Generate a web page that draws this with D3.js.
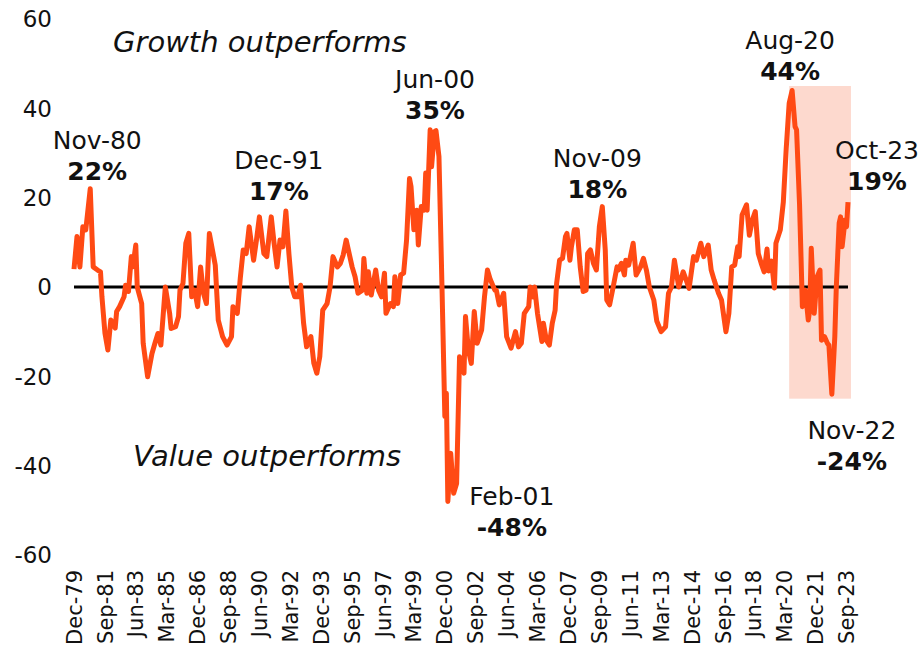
<html lang="en">
<head>
    <title>Growth vs Value</title>
    <style>
        body { margin: 0; background: #fff; }
        svg text { fill: #111; font-family: "DejaVu Sans", sans-serif; }
        .tick-y { font-size: 23px; }
        .tick-x { font-size: 21px; }
        .ann-date { font-size: 25px; }
        .ann-pct { font-size: 25px; font-weight: bold; }
        .regime { font-size: 29px; font-style: italic; }
    </style>
</head>
<body>
<svg id="chart"></svg>
<script src="https://d3js.org/d3.v7.min.js"></script>
<script>
    var months = [
        "1979-12","1980-02","1980-04","1980-06","1980-08","1980-11","1981-01","1981-04","1981-06","1981-07",
        "1981-09","1981-11","1982-01","1982-04","1982-05","1982-07","1982-10","1982-11","1983-01","1983-03",
        "1983-04","1983-06","1983-07","1983-10","1983-11","1984-02","1984-05","1984-07","1984-09","1984-11",
        "1985-02","1985-05","1985-06","1985-09","1985-11","1985-12","1986-02","1986-04","1986-06","1986-08",
        "1986-10","1986-12","1987-02","1987-04","1987-06","1987-08","1987-12","1988-02","1988-05","1988-08",
        "1988-11","1988-12","1989-03","1989-05","1989-07","1989-09","1989-11","1990-02","1990-04","1990-06",
        "1990-09","1990-11","1991-02","1991-04","1991-06","1991-08","1991-10","1991-12","1992-02","1992-04",
        "1992-06","1992-08","1992-10","1992-12","1993-02","1993-05","1993-07","1993-09","1993-11","1994-01",
        "1994-04","1994-06","1994-08","1994-11","1995-01","1995-03","1995-05","1995-09","1995-11","1996-01",
        "1996-04","1996-05","1996-07","1996-08","1996-10","1997-01","1997-03","1997-05","1997-07","1997-08",
        "1997-11","1998-01","1998-02","1998-04","1998-06","1998-08","1998-10","1998-12","1999-01","1999-03",
        "1999-05","1999-06","1999-08","1999-10","1999-11","1999-12","2000-02","2000-03","2000-05","2000-06",
        "2000-08","2000-10","2000-12","2001-01","2001-02","2001-04","2001-06","2001-08","2001-10","2002-01",
        "2002-02","2002-04","2002-06","2002-08","2002-10","2003-01","2003-03","2003-05","2003-07","2003-10",
        "2003-11","2004-01","2004-04","2004-06","2004-09","2004-12","2005-02","2005-04","2005-06","2005-09",
        "2005-10","2005-12","2006-01","2006-03","2006-06","2006-07","2006-09","2006-11","2007-01","2007-03",
        "2007-04","2007-06","2007-08","2007-10","2007-11","2008-01","2008-02","2008-04","2008-06","2008-08",
        "2008-10","2008-12","2009-01","2009-03","2009-05","2009-07","2009-09","2009-11","2010-01","2010-02",
        "2010-04","2010-06","2010-09","2010-10","2010-12","2011-02","2011-03","2011-05","2011-08","2011-10",
        "2012-01","2012-03","2012-05","2012-07","2012-10","2012-12","2013-03","2013-06","2013-08","2013-10",
        "2013-12","2014-03","2014-06","2014-08","2014-10","2015-01","2015-03","2015-06","2015-08","2015-11",
        "2016-01","2016-03","2016-06","2016-08","2016-11","2017-01","2017-03","2017-05","2017-07","2017-08",
        "2017-10","2018-01","2018-03","2018-05","2018-07","2018-09","2018-11","2019-01","2019-03","2019-04",
        "2019-06","2019-08","2019-09","2019-12","2020-02","2020-04","2020-06","2020-08","2020-10","2020-11",
        "2021-01","2021-02","2021-03","2021-05","2021-07","2021-08","2021-09","2021-11","2022-01","2022-03",
        "2022-04","2022-06","2022-08","2022-09","2022-11","2023-01","2023-02","2023-04","2023-05","2023-06",
        "2023-08","2023-09","2023-10"
    ];
    var spread = [
        4, 11.3, 4.5, 13.5, 12.8, 22, 4.5, 3.8, 3.4, -2.2,
        -10.3, -14.1, -7.4, -9.2, -5.5, -4.4, -2.2, 0.4, -1, 6.8,
        4.5, 9.4, 0, -3.7, -12.6, -20.1, -14.9, -12.6, -10.4, -13,
        0, -5.9, -9.3, -8.9, -6.6, -0.7, 0.8, 9.8, 12, -2.2,
        -0.7, -4.4, 4.5, -1.4, -3.7, 12, 4.9, -7.4, -11.1, -13,
        -11.1, -4.4, -5.9, 1.9, 8.3, 7.5, 13.5, 6, 10.5, 15.7,
        7.5, 6.8, 15.7, 9.8, 4.5, 10.5, 9, 17, 7.5, 0,
        -2.2, -2.2, 0.4, -8.1, -13.4, -11.1, -17.1, -19.3, -15.6, -5.2,
        -3.7, 0, 6.8, 4.5, 5.3, 7.2, 10.5, 4.5, 2.3, -1.4,
        -0.7, 6.4, -1.4, 3.4, -1.8, 3.8, -0.7, -2.2, 3.1, -5.9,
        -3.7, -4.4, 2.3, -3.7, 2.7, 3.1, 10.5, 24.3, 22.5, 12.8,
        17.2, 9.4, 18, 17.2, 25.5, 17.2, 35.2, 26.9, 34.8, 35,
        29.2, 0.8, -29, -23.8, -48, -37.2, -46.2, -44, -15.6, -19.3,
        -6.6, -14.1, -17.1, -5.5, -12.6, -9.6, -2.2, 3.8, 1.6, -0.7,
        -0.7, -4, -1.4, -11.1, -13.7, -10, -13.4, -12.6, -5.9, -4.4,
        0, -2.2, 0, -5.9, -12.2, -8.1, -11.9, -13, -8.1, -5.2,
        0.8, 6, 6.4, 11.3, 12, 6, 9, 12.8, 12.8, 4.5,
        -1, -0.7, 7.5, 8.3, 5.3, 3.8, 13.5, 18, 8.3, -2.9,
        -4, -0.7, 4.5, 3.8, 5.3, 2.7, 6, 4.9, 9.8, 2.7,
        4.5, 6.4, 3.8, 0, -2.9, -7.6, -10, -8.9, -1.4, 0,
        6, 0, 3.4, 1.6, -0.3, 6.8, 6, 9.8, 6.8, 9.4,
        3.8, 1.6, -1.4, -2.9, -10, -5.9, 4.5, 4.9, 9, 6.8,
        16.1, 18.4, 11.6, 15, 16.9, 7.5, 5.3, 3.4, 8.5, 3.6,
        5.8, -0.2, 9.8, 12.8, 19, 31, 41.1, 44, 35.9, 35.2,
        18.7, 6.8, -4.4, -0.7, -7.4, -5.2, 8.7, -5.9, 2.3, 3.8,
        -11.9, -11.1, -12.6, -13, -24, -11.1, 0, 14.3, 15.7, 9,
        15, 13.5, 19
    ];
    var xTickLabels = ["Dec-79","Sep-81","Jun-83","Mar-85","Dec-86","Sep-88","Jun-90","Mar-92","Dec-93",
        "Sep-95","Jun-97","Mar-99","Dec-00","Sep-02","Jun-04","Mar-06","Dec-07","Sep-09","Jun-11",
        "Mar-13","Dec-14","Sep-16","Jun-18","Mar-20","Dec-21","Sep-23"];
    var yTicks = [-60, -40, -20, 0, 20, 40, 60];

    // labelled extremes
    var peakMonths = ["1980-11","1991-12","2000-06","2009-11","2020-08","2023-10","2022-11","2001-02"];
    var peakValues = [22, 17, 35, 18, 44, 19, -24, -48];

    // shaded recent period
    var shadeMonths = ["2020-06", "2023-12"];
    var shadeRange = [-25, 45];

    var width = 924, height = 656;
    var parseMonth = d3.timeParse("%Y-%m");
    var parseTick = d3.timeParse("%b-%y");

    var data = months.map((m, i) => ({date: parseMonth(m), value: spread[i]}));

    var x = d3.scaleTime()
        .domain(d3.extent(data, d => d.date))
        .range([74, 848]);
    var y = d3.scaleLinear()
        .domain([-60, 60])
        .range([555, 19]);

    var svg = d3.select("#chart")
        .attr("width", width)
        .attr("height", height);

    // shaded box
    svg.append("rect")
        .attr("x", x(parseMonth(shadeMonths[0])))
        .attr("y", y(shadeRange[1]))
        .attr("width", x(parseMonth(shadeMonths[1])) - x(parseMonth(shadeMonths[0])))
        .attr("height", y(shadeRange[0]) - y(shadeRange[1]))
        .attr("fill", "#fdd9ce");

    // y axis labels
    svg.append("g")
        .selectAll("text")
        .data(yTicks)
        .enter()
        .append("text")
        .attr("class", "tick-y")
        .attr("x", 52)
        .attr("y", d => y(d))
        .attr("dy", "0.36em")
        .attr("text-anchor", "end")
        .text(d => d);

    // x axis labels, rotated
    svg.append("g")
        .selectAll("text")
        .data(xTickLabels)
        .enter()
        .append("text")
        .attr("class", "tick-x")
        .attr("transform", d => "translate(" + x(parseTick(d)) + ",570) rotate(-90)")
        .attr("dy", "0.36em")
        .attr("text-anchor", "end")
        .text(d => d);

    // zero line
    svg.append("line")
        .attr("x1", x.range()[0])
        .attr("x2", x.range()[1])
        .attr("y1", y(0))
        .attr("y2", y(0))
        .attr("stroke", "#000")
        .attr("stroke-width", 3);

    var line = d3.line()
        .x(d => x(d.date))
        .y(d => y(d.value));

    svg.append("path")
        .datum(data)
        .attr("d", line)
        .attr("fill", "none")
        .attr("stroke", "#ff4a14")
        .attr("stroke-width", 5)
        .attr("stroke-linejoin", "round");

    // annotation placement (pixel offsets from the point)
    var offsets = [[7, -9], [-7, -11], [-1, -12], [-5, -9], [-2, -10], [29, -12], [20, 76], [64, 35]];
    var fmt = d3.timeFormat("%b-%y");

    peakMonths.forEach((m, i) => {
        var d = parseMonth(m);
        var px = x(d) + offsets[i][0];
        var py = y(peakValues[i]) + offsets[i][1];
        svg.append("text")
            .attr("class", "ann-date")
            .attr("x", px)
            .attr("y", py - 31)
            .attr("text-anchor", "middle")
            .text(fmt(d));
        svg.append("text")
            .attr("class", "ann-pct")
            .attr("x", px)
            .attr("y", py)
            .attr("text-anchor", "middle")
            .text(peakValues[i] + "%");
    });

    svg.append("text")
        .attr("class", "regime")
        .attr("x", 113)
        .attr("y", 52)
        .text("Growth outperforms");
    svg.append("text")
        .attr("class", "regime")
        .attr("x", 133)
        .attr("y", 466)
        .text("Value outperforms");
</script>
</body>
</html>
